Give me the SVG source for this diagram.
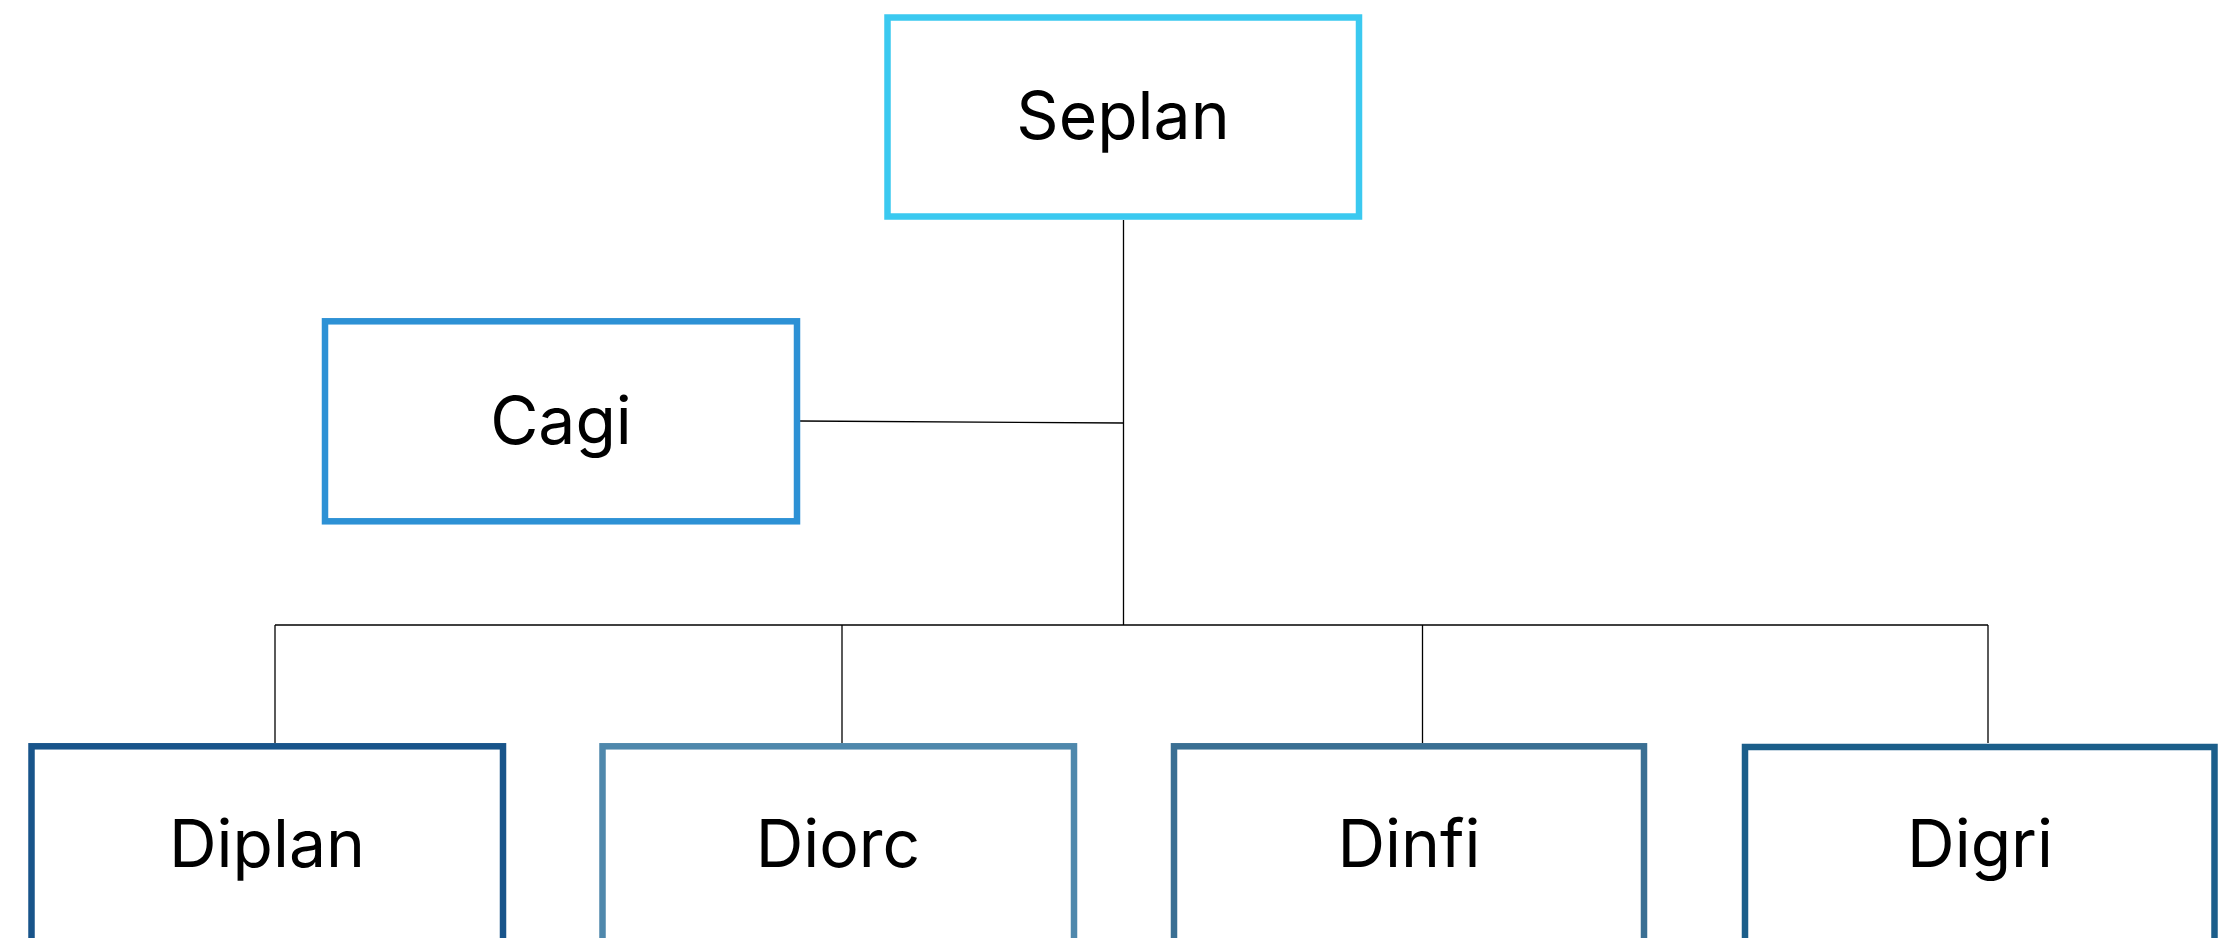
<svg xmlns="http://www.w3.org/2000/svg" width="2229" height="938" viewBox="0 0 2229 938">
<style>
.box{fill:#fff;stroke-width:6.5}
.lbl{font-family:Inter,"Noto Sans",sans-serif;font-size:66px;fill:#000;text-anchor:middle}
.ln{stroke:#000;stroke-width:1.3;fill:none}
</style>
<rect width="2229" height="938" fill="#fff"/>
<g id="connectors">
<line class="ln" x1="1123.5" y1="220" x2="1123.5" y2="625"/>
<line class="ln" x1="800" y1="421" x2="1123.5" y2="423"/>
<line class="ln" x1="275" y1="625" x2="1988" y2="625"/>
<line class="ln" x1="275" y1="625" x2="275" y2="743"/>
<line class="ln" x1="842" y1="625" x2="842" y2="743"/>
<line class="ln" x1="1422.5" y1="625" x2="1422.5" y2="743"/>
<line class="ln" x1="1988" y1="625" x2="1988" y2="743"/>
</g>
<g id="seplan">
<rect class="box" x="887.5" y="17.5" width="471.5" height="199" stroke="#3BC9F0"/>
<text class="lbl" x="1123" y="139.3">Seplan</text>
</g>
<g id="cagi">
<rect class="box" x="325" y="321.3" width="472" height="200" stroke="#2D91D5"/>
<text class="lbl" x="561" y="444">Cagi</text>
</g>
<g id="diplan">
<rect class="box" x="31.5" y="746.3" width="471.5" height="199" stroke="#18548A"/>
<text class="lbl" x="267" y="867.3">Diplan</text>
</g>
<g id="diorc">
<rect class="box" x="602.5" y="746.3" width="471.5" height="199" stroke="#4F88AC"/>
<text class="lbl" x="838" y="867.3">Diorc</text>
</g>
<g id="dinfi">
<rect class="box" x="1174" y="746.3" width="470" height="199" stroke="#3A6F93"/>
<text class="lbl" x="1409" y="867.3">Dinfi</text>
</g>
<g id="digri">
<rect class="box" x="1745" y="747" width="469.5" height="199" stroke="#1B5E8A" stroke-width="7.7"/>
<text class="lbl" x="1980" y="867.3">Digri</text>
</g>
</svg>
